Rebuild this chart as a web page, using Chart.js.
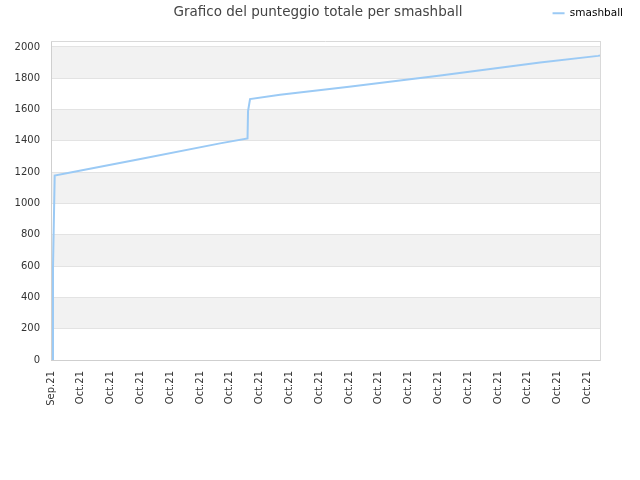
<!DOCTYPE html>
<html><head><meta charset="utf-8">
<script src="https://cdn.jsdelivr.net/npm/chart.js@4/dist/chart.umd.min.js"></script>
<style>html,body{margin:0;padding:0;background:#fff}</style>
</head><body>
<canvas id="c" width="640" height="480" style="width:640px;height:480px;display:block"></canvas>
<script>
const chartTitle = "Grafico del punteggio totale per smashball";
const seriesName = "smashball";
const tickLabels = ["Sep.21","Oct.21","Oct.21","Oct.21","Oct.21","Oct.21","Oct.21","Oct.21","Oct.21","Oct.21",
                    "Oct.21","Oct.21","Oct.21","Oct.21","Oct.21","Oct.21","Oct.21","Oct.21","Oct.21"];
const yTickValues = [0, 200, 400, 600, 800, 1000, 1200, 1400, 1600, 1800, 2000];
const xValues = [0.067, 0.067, 0.124, 1.0, 3.0, 5.671, 6.594, 6.611, 6.678, 7.685, 10.0, 13.0, 16.41, 18.356, 18.42];
const yValues = [0, 592, 1178, 1210, 1284, 1384, 1416, 1590, 1667, 1694, 1745, 1816, 1900, 1943, 1945];
const xMax = 18.42;
const yMax = 2038;

const points = xValues.map((x, i) => ({x: x, y: yValues[i]}));

const FONT = "DejaVu Sans";

const decor = {
  id: 'decor',
  beforeDraw(chart) {
    const {ctx, chartArea: a, scales: {y}} = chart;
    ctx.save();
    ctx.fillStyle = '#f2f2f2';
    const vals = y.ticks.map(t => t.value);
    for (let i = 1; i < vals.length; i += 2) {
      const v1 = (i + 1 < vals.length) ? vals[i + 1] : y.max;
      const p0 = y.getPixelForValue(vals[i]);
      const p1 = y.getPixelForValue(v1);
      ctx.fillRect(a.left, p1, a.right - a.left, p0 - p1);
    }
    ctx.restore();
  },
  beforeDatasetsDraw(chart) {
    const {ctx, chartArea: a} = chart;
    ctx.save();
    ctx.strokeStyle = '#d9d9d9';
    ctx.lineWidth = 1;
    ctx.beginPath();
    ctx.moveTo(a.left, a.top + 0.5);
    ctx.lineTo(a.right, a.top + 0.5);
    ctx.stroke();
    ctx.restore();
  },
  afterDraw(chart) {
    const ctx = chart.ctx;
    ctx.save();
    ctx.font = "13.5px '" + FONT + "'";
    ctx.fillStyle = '#444';
    ctx.textAlign = 'center';
    ctx.textBaseline = 'middle';
    ctx.fillText(chartTitle, chart.width / 2 - 2, 12);
    ctx.restore();
  }
};

new Chart(document.getElementById('c'), {
  type: 'line',
  data: {
    datasets: [{
      label: seriesName,
      data: points,
      borderColor: 'rgb(155,202,245)',
      backgroundColor: 'rgb(155,202,245)',
      borderWidth: 2,
      pointRadius: 0,
      tension: 0,
      fill: false
    }]
  },
  options: {
    responsive: false,
    animation: false,
    devicePixelRatio: 1,
    layout: {padding: {top: -2, right: 7, bottom: 0, left: 0}},
    plugins: {
      title: {display: false},
      tooltip: {enabled: false},
      legend: {
        position: 'top',
        align: 'end',
        labels: {
          usePointStyle: true,
          pointStyle: 'line',
          pointStyleWidth: 12,
          color: '#000',
          padding: 10,
          font: {family: FONT, size: 10.5}
        }
      }
    },
    scales: {
      x: {
        type: 'linear',
        min: 0,
        max: xMax,
        grid: {display: false},
        border: {display: true, color: '#cfcfcf'},
        ticks: {
          stepSize: 1,
          includeBounds: false,
          autoSkip: false,
          maxRotation: 90,
          minRotation: 90,
          padding: 3,
          color: '#333',
          font: {family: FONT, size: 10},
          callback: (v, i) => tickLabels[i]
        },
        afterFit(s) { s.height = 120; }
      },
      x2: {
        type: 'linear',
        position: 'top',
        display: true,
        grid: {display: false, drawOnChartArea: false},
        border: {display: false},
        ticks: {display: false},
        afterFit(s) { s.height = 12.5; }
      },
      y: {
        type: 'linear',
        min: 0,
        max: yMax,
        grid: {color: '#e3e3e3', drawTicks: false},
        border: {display: true, color: '#cfcfcf'},
        ticks: {
          padding: 11,
          color: '#333',
          font: {family: FONT, size: 10},
          callback: v => String(v)
        },
        afterBuildTicks(s) { s.ticks = yTickValues.map(v => ({value: v})); },
        afterFit(s) { s.width = 51; }
      },
      y2: {
        type: 'linear',
        position: 'right',
        display: true,
        grid: {display: false, drawOnChartArea: false},
        border: {display: true, color: '#d9d9d9'},
        ticks: {display: false},
        afterFit(s) { s.width = 33; }
      }
    }
  },
  plugins: [decor]
});
</script>
</body></html>
